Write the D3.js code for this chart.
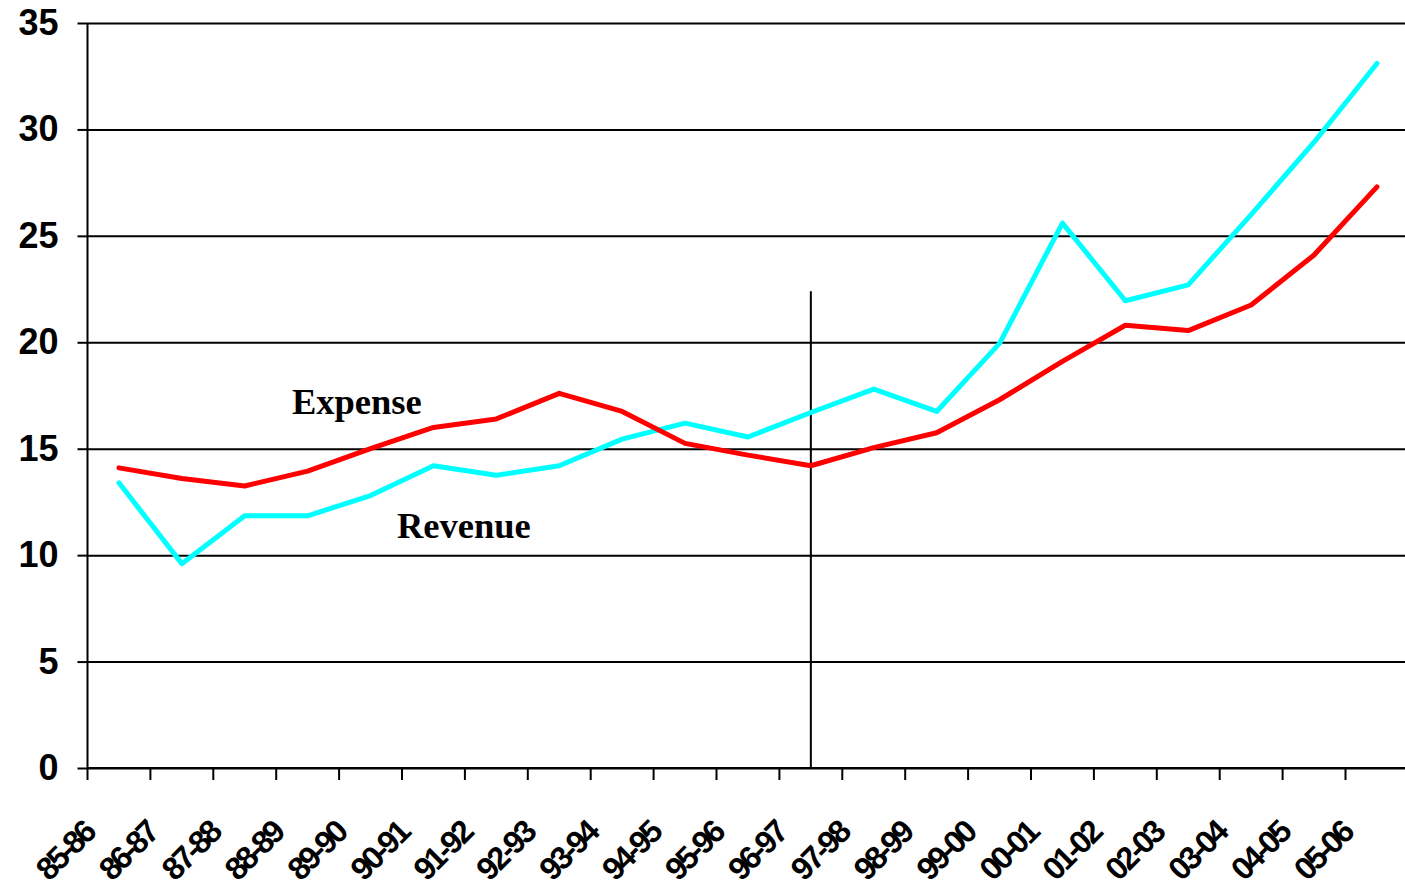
<!DOCTYPE html>
<html>
<head>
<meta charset="utf-8">
<script src="https://cdn.jsdelivr.net/npm/d3@7"></script>
<style>
  body { margin: 0; background: #fff; }
  svg { display: block; }
</style>
</head>
<body>
<svg id="viz"></svg>
<script>
const years = ["85-86", "86-87", "87-88", "88-89", "89-90", "90-91", "91-92", "92-93", "93-94", "94-95",
    "95-96", "96-97", "97-98", "98-99", "99-00", "00-01", "01-02", "02-03", "03-04", "04-05", "05-06"];
const expense = [14.1, 13.6, 13.25, 13.95, 15.0, 16.0, 16.4, 17.6, 16.75, 15.25,
    14.7, 14.2, 15.05, 15.75, 17.3, 19.1, 20.8, 20.55, 21.75, 24.1, 27.3];
const revenue = [13.4, 9.6, 11.85, 11.85, 12.8, 14.2, 13.75, 14.2, 15.45, 16.2,
    15.55, 16.7, 17.8, 16.75, 19.95, 25.6, 21.95, 22.7, 26.0, 29.4, 33.1];
const yTicks = [0, 5, 10, 15, 20, 25, 30, 35];
const divider = { year: "96-97", top: 22.4 };
const notes = [
    { text: "Expense", pos: 2.75, value: 16.65 },
    { text: "Revenue", pos: 4.42, value: 10.8 }
];

const app = {
    init() {
        this.createGraph();
    },

    createGraph() {
        const width = 1405;
        const height = 890;
        const left = 87.5, right = 1408.4, top = 23, bottom = 768;

        this.svg = d3.select("#viz").attr("width", width).attr("height", height);

        const x = d3.scaleBand().domain(years).range([left, right]);
        const xPos = d3.scaleLinear().domain([0, years.length - 1]).range([x(years[0]) + x.bandwidth() / 2, x(years[years.length - 1]) + x.bandwidth() / 2]);
        const y = d3.scaleLinear().domain([0, 35]).range([bottom, top]);

        // gridlines + y axis
        const yAxis = this.svg.append("g").attr("transform", `translate(${left}, 0)`)
            .call(d3.axisLeft(y).tickValues(yTicks).tickSize(10).tickPadding(19));
        yAxis.select(".domain").remove();
        yAxis.selectAll(".tick line").attr("stroke", "#000").attr("stroke-width", 2);
        yAxis.selectAll(".tick").append("line").attr("x1", 0).attr("x2", width - left).attr("stroke", "#000").attr("stroke-width", 2);
        yAxis.selectAll("text").style("font-family", "'Liberation Sans', Arial, sans-serif").style("font-weight", "bold")
            .style("font-size", "36px").attr("fill", "#000");
        this.svg.append("line").attr("x1", left).attr("x2", left).attr("y1", top).attr("y2", bottom).attr("stroke", "#000").attr("stroke-width", 2);

        // x axis ticks at band edges
        const xAxis = this.svg.append("g").attr("transform", `translate(0, ${bottom})`);
        xAxis.append("line").attr("x1", left).attr("x2", width).attr("stroke", "#000").attr("stroke-width", 2);
        xAxis.selectAll("line.tk").data(years).enter().append("line").attr("class", "tk")
            .attr("x1", d => x(d)).attr("x2", d => x(d)).attr("y1", 0).attr("y2", 12).attr("stroke", "#000").attr("stroke-width", 2);
        xAxis.selectAll("text").data(years).enter().append("text")
            .attr("transform", d => `translate(${x(d) + 9}, 67) rotate(-45)`)
            .attr("text-anchor", "end")
            .style("font-family", "'Liberation Sans', Arial, sans-serif").style("font-weight", "bold")
            .style("font-size", "32px").style("letter-spacing", "-3px")
            .text(d => d);

        // divider
        const di = years.indexOf(divider.year);
        this.svg.append("line").attr("x1", xPos(di)).attr("x2", xPos(di)).attr("y1", y(divider.top)).attr("y2", y(0))
            .attr("stroke", "#000").attr("stroke-width", 2);

        const line = d3.line().x((d, i) => xPos(i)).y(d => y(d));
        this.svg.append("path").datum(revenue).attr("d", line).attr("fill", "none").attr("stroke", "#00FFFF")
            .attr("stroke-width", 5).attr("stroke-linejoin", "round").attr("stroke-linecap", "round");
        this.svg.append("path").datum(expense).attr("d", line).attr("fill", "none").attr("stroke", "#FF0000")
            .attr("stroke-width", 5).attr("stroke-linejoin", "round").attr("stroke-linecap", "round");

        this.svg.selectAll("text.note").data(notes).enter().append("text").attr("class", "note")
            .attr("x", d => xPos(d.pos)).attr("y", d => y(d.value))
            .style("font-family", "'Liberation Serif', 'Times New Roman', serif").style("font-weight", "bold")
            .style("font-size", "36.5px").text(d => d.text);
    }
}

window.addEventListener("DOMContentLoaded", () => app.init())
</script>
</body>
</html>
